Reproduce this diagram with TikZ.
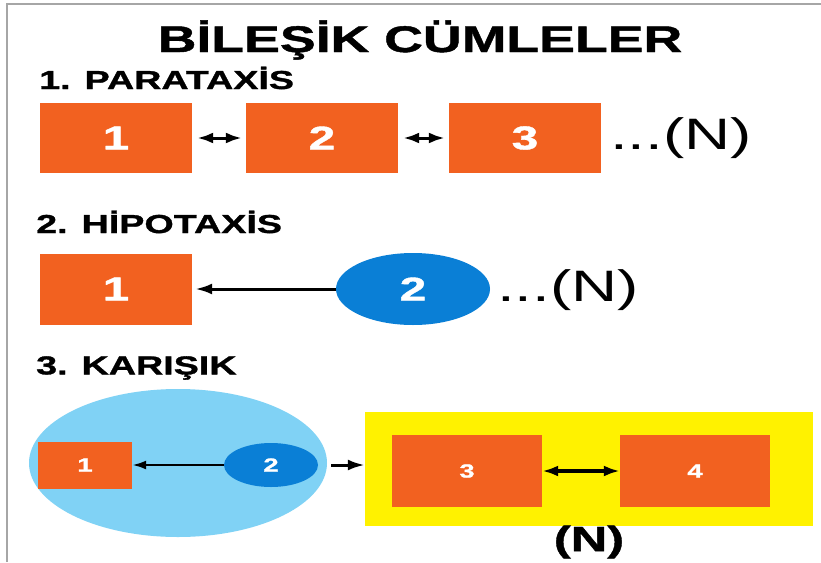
\documentclass[tikz,border=0pt]{standalone}
\usepackage{fontspec}
\usetikzlibrary{arrows.meta,shapes.geometric}
\newfontfamily\hf[FakeStretch=1.45]{Liberation Sans}
\newfontfamily\hfb[FakeStretch=1.45,FakeBold=1.2]{Liberation Sans Bold}
\definecolor{orng}{HTML}{F26120}
\definecolor{dblue}{HTML}{0A7FD6}
\definecolor{lblue}{HTML}{80D2F5}
\definecolor{yel}{HTML}{FFF200}
\tikzset{
  box/.style={fill=orng,minimum width=#1,inner sep=0pt,text=white,font=\hfb\fontsize{33}{33}\selectfont},
  sbox/.style={fill=orng,inner sep=0pt,text=white,font=\hfb\fontsize{19}{19}\selectfont},
  oval/.style={ellipse,fill=dblue,inner sep=0pt,text=white,font=\hfb\fontsize{33}{33}\selectfont},
  heading/.style={anchor=west,inner sep=0pt,font=\hfb\fontsize{26}{26}\selectfont},
  dots/.style={anchor=west,inner sep=0pt,font=\hf\fontsize{44}{44}\selectfont},
  arr/.style={-{Latex[length=17pt,width=11pt]},line width=3pt},
  darr/.style={{Latex[length=16pt,width=11pt]}-{Latex[length=16pt,width=11pt]},line width=3pt},
}
\begin{document}
\begin{tikzpicture}[x=1pt,y=-1pt]
\useasboundingbox (0,0) rectangle (821,562);
\fill[white] (0,0) rectangle (821,562);
\draw[gray!70,line width=1.5pt] (7,562) -- (7,4) -- (821,4);
% title
\node[inner sep=0pt,font=\hfb\fontsize{37}{37}\selectfont] (title) at (420,40) {BİLEŞİK CÜMLELER};
% section 1
\node[heading] (h1) at (39,78) {1. PARATAXİS};
\node[box=152pt,minimum height=70pt] (p1) at (116,138) {1};
\node[box=152pt,minimum height=70pt] (p2) at (322,138) {2};
\node[box=152pt,minimum height=70pt] (p3) at (525,138) {3};
\node[dots] (pn) at (610,138) {...(N)};
\draw[darr,shorten <=5pt,shorten >=4pt] (p1.east) -- (p2.west);
\draw[darr,shorten <=5pt,shorten >=4pt] (p2.east) -- (p3.west);
% section 2
\node[heading] (h2) at (36,222) {2. HİPOTAXİS};
\node[box=152pt,minimum height=71pt] (q1) at (116,289) {1};
\node[oval,minimum width=154pt,minimum height=72pt] (q2) at (413,289) {2};
\node[dots] (qn) at (497,290) {...(N)};
\draw[arr,shorten >=3pt] (q2.west) -- (q1.east);
% section 3
\node[heading] (h3) at (36,368) {3. KARIŞIK};
\node[ellipse,fill=lblue,minimum width=298pt,minimum height=148pt,inner sep=0pt] (big) at (178,463) {};
\node[sbox,minimum width=94pt,minimum height=47pt] (r1) at (85,465) {1};
\node[oval,minimum width=94pt,minimum height=44pt,font=\hfb\fontsize{19}{19}\selectfont] (r2) at (271,465) {2};
\draw[arr,line width=2.4pt,-{Latex[length=14pt,width=9pt]}] (r2.west) -- (r1.east);
\node[fill=yel,minimum width=448pt,minimum height=114pt,inner sep=0pt] (yb) at (589,469) {};
\node[sbox,minimum width=150pt,minimum height=72pt] (r3) at (467,471) {3};
\node[sbox,minimum width=150pt,minimum height=72pt] (r4) at (695,471) {4};
\coordinate (bge) at ([xshift=4pt,yshift=-2pt]big.east);
\draw[arr] (bge) -- (bge -| yb.west);
\draw[darr,line width=3.2pt] (r3.east) -- (r4.west);
\node[inner sep=0pt,font=\hfb\fontsize{35}{35}\selectfont] (rn) at (589,542) {(N)};
\end{tikzpicture}
\end{document}
